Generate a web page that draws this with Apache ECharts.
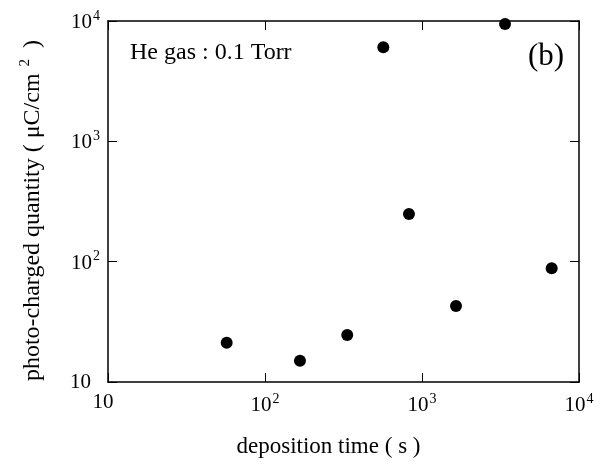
<!DOCTYPE html>
<html>
<head>
<meta charset="utf-8">
<script src="https://cdn.jsdelivr.net/npm/echarts@6/dist/echarts.min.js"></script>
<style>
  html, body { margin: 0; padding: 0; background: #fff; }
  #chart { width: 613px; height: 464px; }
</style>
</head>
<body>
<div id="chart"></div>
<script>
// deposition time (s) vs photo-charged quantity (uC/cm2)
var depositionTime = [57, 167, 334, 567, 826, 1647, 3380, 6700];
var chargedQuantity = [21.2, 15.0, 24.6, 6060, 249, 42.8, 9460, 88.1];
var axisMin = 10;
var axisMax = 10000;

var chart = echarts.init(document.getElementById('chart'));
var serif = 'Liberation Serif';

var points = depositionTime.map(function (t, i) {
    return [t, chargedQuantity[i]];
});

// 10, 10^2, 10^3 ... as rich text
function powLabel(v, padName) {
    var e = Math.round(Math.log10(v));
    if (e === 1) return '{' + padName + '|10}';
    return '{b|10}{s|' + e + '}';
}

var labelRich = {
    b: { fontFamily: serif, fontSize: 21, color: '#000', verticalAlign: 'bottom' },
    p: { fontFamily: serif, fontSize: 21, color: '#000', verticalAlign: 'bottom', padding: [0, 9, 0, 0] },
    q: { fontFamily: serif, fontSize: 21, color: '#000', verticalAlign: 'bottom', padding: [0, 10, 0, 0] },
    s: { fontFamily: serif, fontSize: 14, color: '#000', verticalAlign: 'bottom', padding: [0, 0, 10, 1] }
};

var lineStyle = { color: '#000', width: 1.5 };

function frameAxis(extra) {
    return Object.assign({
        type: 'log',
        logBase: 10,
        min: axisMin,
        max: axisMax,
        axisLine: { show: true, onZero: false, lineStyle: lineStyle },
        axisTick: { show: true, inside: true, length: 9, lineStyle: { color: '#000', width: 1 } },
        minorTick: { show: false },
        splitLine: { show: false }
    }, extra);
}

var option = {
    backgroundColor: '#fff',
    animation: false,
    grid: { left: 108, right: 34, top: 21, bottom: 82 },
    xAxis: [
        frameAxis({
            position: 'bottom',
            name: 'deposition time ( s )',
            nameLocation: 'middle',
            nameGap: 53,
            nameTextStyle: { fontFamily: serif, fontSize: 23, color: '#000', padding: [0, 30, 0, 0] },
            axisLabel: {
                margin: 10,
                fontFamily: serif,
                fontSize: 21,
                color: '#000',
                formatter: function (v) { return powLabel(v, 'q'); },
                rich: labelRich
            }
        }),
        frameAxis({ position: 'top', axisLabel: { show: false } })
    ],
    yAxis: [
        frameAxis({
            position: 'left',
            name: '{n|photo-charged quantity ( μC/cm}{s|2}{n| )}',
            nameLocation: 'middle',
            nameGap: 63,
            nameTextStyle: {
                fontFamily: serif, fontSize: 24, color: '#000',
                padding: [0, 18, 0, 0],
                rich: {
                    n: { fontFamily: serif, fontSize: 24, color: '#000', verticalAlign: 'bottom' },
                    s: { fontFamily: serif, fontSize: 15, color: '#000', verticalAlign: 'bottom', padding: [0, 5, 12, 7] }
                }
            },
            axisLabel: {
                margin: 8,
                fontFamily: serif,
                fontSize: 21,
                color: '#000',
                formatter: function (v) { return powLabel(v, 'p'); },
                rich: labelRich
            }
        }),
        frameAxis({ position: 'right', axisLabel: { show: false } })
    ],
    graphic: [
        {
            type: 'text',
            style: {
                text: 'He gas : 0.1 Torr',
                x: 130, y: 53,
                textVerticalAlign: 'middle',
                font: '24px "Liberation Serif"',
                fill: '#000'
            }
        },
        {
            type: 'text',
            style: {
                text: '(b)',
                x: 546, y: 57,
                textAlign: 'center',
                textVerticalAlign: 'middle',
                font: '31px "Liberation Serif"',
                fill: '#000'
            }
        }
    ],
    series: [{
        type: 'scatter',
        data: points,
        symbol: 'circle',
        symbolSize: 12,
        itemStyle: { color: '#000', opacity: 1 }
    }]
};

chart.setOption(option);
</script>
</body>
</html>
